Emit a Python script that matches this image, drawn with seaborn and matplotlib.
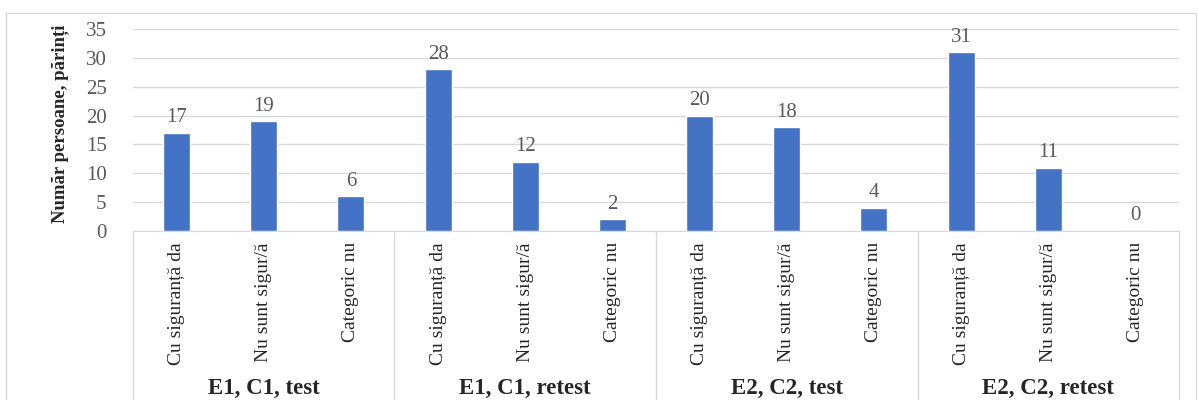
import pandas as pd
import seaborn as sns
import matplotlib.pyplot as plt
from matplotlib.patches import Rectangle
from matplotlib.transforms import blended_transform_factory

# data
answers = ["Cu siguranță da", "Nu sunt sigur/ă", "Categoric nu"]
groups = ["E1, C1, test", "E1, C1, retest", "E2, C2, test", "E2, C2, retest"]
counts = [17, 19, 6, 28, 12, 2, 20, 18, 4, 31, 11, 0]

df = pd.DataFrame({
    "pos": [str(i) for i in range(len(counts))],
    "answer": answers * len(groups),
    "count": counts,
})

sns.set_style("white")
plt.rcParams['font.family'] = ['Liberation Serif', 'DejaVu Serif']

fig = plt.figure(figsize=(11.98, 4.0), dpi=100)
ax = fig.add_axes([133 / 1198, 169 / 400, (1179 - 133) / 1198, 202 / 400])

sns.barplot(data=df, x="pos", y="count", color="#4472C4", saturation=1,
            width=0.31, ax=ax)

ax.set_ylim(0, 35)
ax.set_xlim(-0.5, len(counts) - 0.5)
ax.set_yticks(range(0, 36, 5))
ax.yaxis.grid(True, color="#D9D9D9", linewidth=1)
ax.set_axisbelow(True)
for s in ["left", "right", "top"]:
    ax.spines[s].set_visible(False)
ax.spines["bottom"].set_color("#D9D9D9")

ax.set_xticks(range(len(counts)))
ax.set_xticklabels(df["answer"], rotation=90, va="top", fontsize=14)
ax.tick_params(axis="x", length=0, pad=8)
ax.tick_params(axis="y", length=0, pad=19, labelsize=15, labelcolor="#595959")
ax.set_xlabel("")
ax.set_ylabel("")

ax.bar_label(ax.containers[0], padding=4, fontsize=15, color="#595959")

# group separators and group labels under the axis
trans = blended_transform_factory(ax.transData, ax.transAxes)
for i in range(len(groups) + 1):
    ax.plot([i * 3 - 0.5, i * 3 - 0.5], [0, -0.9], transform=trans,
            color="#D9D9D9", linewidth=1, clip_on=False)
for i, g in enumerate(groups):
    ax.text(i * 3 + 1, -0.78, g, transform=trans, ha="center", va="center",
            fontsize=16.5, fontweight="bold")

fig.text(60 / 1198, 0.69, "Număr persoane, părinți", rotation=90,
         ha="center", va="center", fontsize=13.5, fontweight="bold")

# outer chart border
fig.patches.append(Rectangle((6 / 1198, -0.05), 1190 / 1198, 1.05 - 13 / 400,
                             transform=fig.transFigure, fill=False,
                             edgecolor="#D9D9D9", linewidth=1))

fig.savefig("out.png", dpi=100)
